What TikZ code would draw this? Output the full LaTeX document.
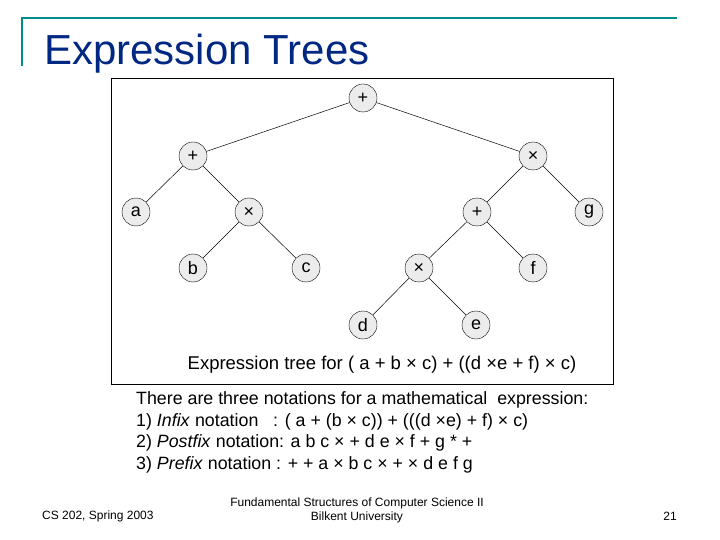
\documentclass[tikz,border=0pt]{standalone}
\usepackage{fontspec}
\setmainfont{Liberation Sans}
\begin{document}
\begin{tikzpicture}[x=1pt,y=-1pt,
  tn/.style={circle,draw,fill=gray!15,minimum size=28pt,inner sep=0pt,font=\fontsize{18}{18}\selectfont},
  ed/.style={draw,line width=0.5pt},
  body/.style={anchor=west,inner sep=0pt,font=\fontsize{17.8}{20}\selectfont},
  foot/.style={inner sep=0pt,font=\fontsize{12}{14}\selectfont}]
\useasboundingbox (0,0) rectangle (720,540);
\definecolor{teal1}{RGB}{0,140,140}
\definecolor{tblue}{RGB}{0,40,130}
\draw[teal1,line width=2.5pt] (22,66) -- (22,18) -- (677,18);
\node[anchor=base west,inner sep=0pt,text=tblue,font=\fontsize{42}{42}\selectfont] (title) at (44,65) {Expression Trees};
\draw[line width=0.7pt] (111,78) rectangle (613,384);
\node[tn] (r) at (363,98) {+};
\node[tn] (p1) at (193,156) {+};
\node[tn] (m1) at (533,156) {×};
\node[tn] (a) at (136,212) {a};
\node[tn] (m2) at (249,212) {×};
\node[tn] (p2) at (477,212) {+};
\node[tn] (g) at (589,212) {g};
\node[tn] (b) at (193,268) {b};
\node[tn] (c) at (306,268) {c};
\node[tn] (m3) at (419,268) {×};
\node[tn] (f) at (533,268) {f};
\node[tn] (d) at (363,325) {d};
\node[tn] (e) at (476,325) {e};
\draw[ed] (r)--(p1) (r)--(m1) (p1)--(a) (p1)--(m2) (m2)--(b) (m2)--(c)
  (m1)--(p2) (m1)--(g) (p2)--(m3) (p2)--(f) (m3)--(d) (m3)--(e);
\node[inner sep=0pt,font=\fontsize{18.5}{18.5}\selectfont] (cap) at (382,365) {Expression tree for ( a + b × c) + ((d ×e + f) × c)};
\node[body] (l1) at (136,400) {There are three notations for a mathematical\ \ expression:};
\node[body] (l2) at (136,422) {1) \textit{Infix} notation\ \ \ : ( a + (b × c)) + (((d ×e) + f) × c)};
\node[body] (l3) at (136,443) {2) \textit{Postfix} notation: a b c × + d e × f + g * +};
\node[body] (l4) at (136,465) {3) \textit{Prefix} notation : + + a × b c × + × d e f g};
\node[foot,anchor=west] (f1) at (42,516) {CS 202, Spring 2003};
\node[foot,align=center] (f2) at (357,510) {Fundamental Structures of Computer Science II\\Bilkent University};
\node[foot] (f3) at (670,516) {21};
\end{tikzpicture}
\end{document}
